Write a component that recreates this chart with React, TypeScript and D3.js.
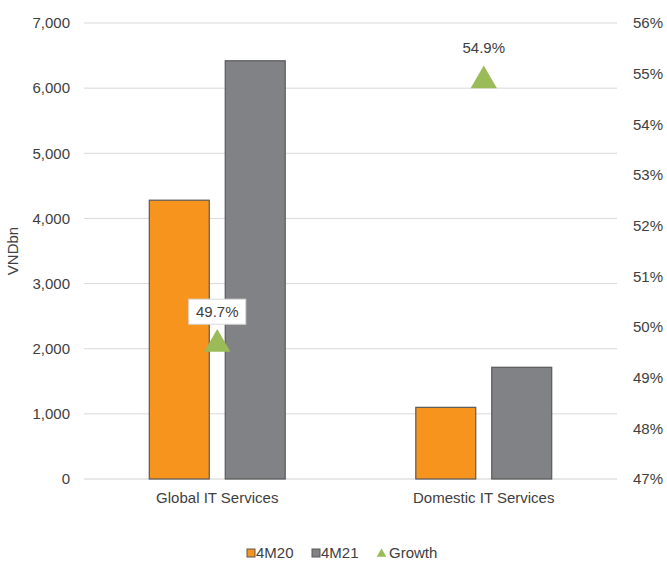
import React from "react";
import * as d3 from "d3";

const categories = ["Global IT Services", "Domestic IT Services"];
const series = ["4M20", "4M21"];
const values4M20 = [4280, 1100];
const values4M21 = [6420, 1715];
const growth = [49.7, 54.9];
const leftTicks = [0, 1000, 2000, 3000, 4000, 5000, 6000, 7000];
const rightTicks = [47, 48, 49, 50, 51, 52, 53, 54, 55, 56];

const W = 667;
const H = 561;
const M = { left: 84, right: 617, top: 23, bottom: 479 };
const colors = ["#F7941E", "#808285"];
const green = "#9BBB59";
const textColor = "#404040";
const font = "'Liberation Sans', Arial, sans-serif";
const FS = 15;

export default function App() {
  const x = d3.scaleBand<string>().domain(categories).range([M.left, M.right]);
  const y = d3.scaleLinear().domain([0, 7000]).range([M.bottom, M.top]);
  const y2 = d3.scaleLinear().domain([47, 56]).range([M.bottom, M.top]);
  const band = x.bandwidth();
  const bw = band * 0.225;
  const gap = band * 0.06;
  const fmt = d3.format(",");
  const data = [values4M20, values4M21];
  const tri = d3.symbol().type(d3.symbolTriangle).size(300);

  return (
    <svg width={W} height={H} style={{ position: "absolute", left: 0, top: 0 }} fontFamily={font}>
      <rect width={W} height={H} fill="#fff" />
      {leftTicks.map((t) => (
        <line key={t} x1={M.left} x2={M.right} y1={y(t)} y2={y(t)} stroke={t === 0 ? "#d0d0d0" : "#d9d9d9"} strokeWidth={1} />
      ))}
      {leftTicks.map((t) => (
        <text key={t} x={70} y={y(t)} dy="0.35em" textAnchor="end" fontSize={FS} fill={textColor}>
          {fmt(t)}
        </text>
      ))}
      {rightTicks.map((t) => (
        <text key={t} x={633} y={y2(t)} dy="0.35em" textAnchor="start" fontSize={FS} fill={textColor}>
          {t}%
        </text>
      ))}
      <text transform={`translate(18,${(M.top + M.bottom) / 2}) rotate(-90)`} textAnchor="middle" fontSize={FS} fill={textColor}>
        VNDbn
      </text>
      {categories.map((c, i) => {
        const cx = (x(c) as number) + band / 2;
        return (
          <g key={c}>
            {data.map((vals, s) => {
              const bx = s === 0 ? cx - gap / 2 - bw : cx + gap / 2;
              return (
                <rect key={s} x={bx} y={y(vals[i])} width={bw} height={M.bottom - y(vals[i])} fill={colors[s]} stroke="#595959" strokeWidth={1.2} />
              );
            })}
            <text x={cx} y={M.bottom + 19} dy="0.35em" textAnchor="middle" fontSize={FS} fill={textColor}>
              {c}
            </text>
          </g>
        );
      })}
      {categories.map((c, i) => {
        const cx = (x(c) as number) + band / 2;
        const gy = y2(growth[i]);
        return (
          <g key={"g" + c}>
            <path d={tri() as string} transform={`translate(${cx},${gy + 2})`} fill={green} />
            <rect x={cx - 28.5} y={gy - 43} width={57} height={25} fill="#fff" stroke={i === 0 ? "#d9d9d9" : "none"} />
            <text x={cx} y={gy - 30.5} dy="0.35em" textAnchor="middle" fontSize={FS} fill={textColor}>
              {growth[i].toFixed(1)}%
            </text>
          </g>
        );
      })}
      <g fontSize={FS} fill={textColor}>
        <rect x={247} y={549} width={8} height={8} fill={colors[0]} stroke="#595959" strokeWidth={1} />
        <text x={256} y={553} dy="0.35em">{series[0]}</text>
        <rect x={312} y={549} width={8} height={8} fill={colors[1]} stroke="#595959" strokeWidth={1} />
        <text x={321} y={553} dy="0.35em">{series[1]}</text>
        <path d={d3.symbol().type(d3.symbolTriangle).size(40)() as string} transform="translate(381.5,554)" fill={green} />
        <text x={389} y={553} dy="0.35em">Growth</text>
      </g>
    </svg>
  );
}
